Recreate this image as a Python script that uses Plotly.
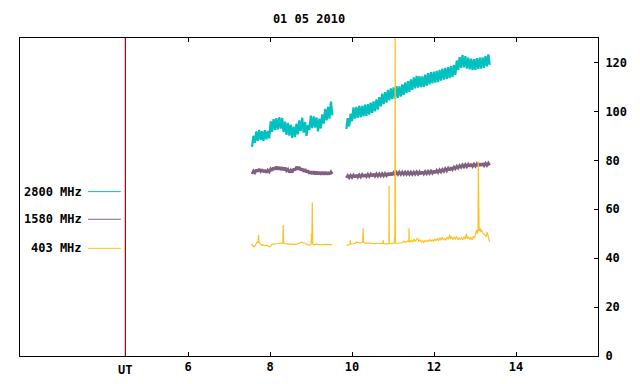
import plotly.graph_objects as go

# ---------------- data ----------------
title_text = "01 05 2010"
series_names = ["2800 MHz", "1580 MHz", "403 MHz"]
series_colors = ["#00c0c0", "#806080", "#ffc020"]
x_tick_vals = [6, 8, 10, 12, 14]
y_tick_vals = [0, 20, 40, 60, 80, 100, 120]
ut_hour = 4.47

sample_step = 0.035  # hours between samples

# 2800 MHz, two segments
cyan_seg1_start = 7.56
cyan_seg1 = [85.5, 90.0, 87.2, 91.8, 88.0, 92.4, 88.3, 91.9, 87.9, 92.3, 88.6, 92.0, 89.0, 95.9,
             91.6, 96.8, 92.3, 97.2, 92.6, 97.6, 93.0, 97.3, 91.5, 95.8, 90.4, 95.3, 90.1, 94.6,
             89.2, 93.8, 89.5, 95.0, 90.6, 96.3, 92.0, 97.4, 91.3, 95.7, 90.0, 94.5, 92.4, 98.3,
             93.2, 98.0, 93.4, 97.5, 91.8, 97.0, 93.0, 98.8, 95.0, 101.0, 96.3, 101.8, 97.0, 104.0, 98.4]
cyan_seg2_start = 9.86
cyan_seg2 = [92.8, 97.2, 93.9, 99.0, 96.0, 101.6, 97.0, 101.8, 97.4, 102.3, 97.6, 102.2, 98.0, 102.8,
             98.2, 103.0, 98.7, 103.6, 99.4, 104.1, 100.0, 104.9, 100.7, 105.8, 102.1, 107.2, 103.0,
             107.9, 103.6, 108.8, 104.5, 109.4, 105.0, 109.8, 105.2, 110.3, 105.5, 110.2, 106.0, 111.0,
             106.8, 111.8, 107.5, 112.4, 108.0, 113.1, 108.8, 113.9, 109.4, 114.5, 109.7, 114.4, 109.9,
             114.3, 110.0, 115.0, 110.4, 115.6, 111.0, 116.0, 111.5, 116.2, 111.8, 116.6, 112.0, 117.0,
             112.6, 117.5, 113.0, 117.8, 113.3, 118.1, 113.6, 118.6, 114.0, 119.0, 114.9, 120.8, 117.0,
             122.2, 117.8, 123.0, 118.0, 122.6, 117.5, 122.0, 117.2, 121.6, 116.9, 121.4, 117.0, 121.8,
             117.4, 122.0, 117.5, 122.1, 117.8, 122.6, 118.4, 123.3, 119.0]

# 1580 MHz, two segments
purple_seg1_start = 7.56
purple_seg1 = [74.4, 75.7, 74.9, 76.2, 75.3, 76.5, 75.4, 76.3, 75.1, 76.1, 74.9, 76.0, 75.2, 76.5,
               75.7, 77.1, 76.2, 77.5, 76.2, 77.3, 76.0, 77.2, 75.9, 77.0, 75.7, 76.4, 75.0, 76.0,
               75.0, 76.6, 75.8, 77.4, 76.2, 77.3, 75.8, 76.7, 75.3, 76.4, 75.0, 75.9, 74.5, 75.5,
               74.3, 75.5, 74.2, 75.4, 74.2, 75.3, 74.1, 75.3, 74.1, 75.3, 74.1, 75.2, 74.2, 75.3, 74.4]
purple_seg2_start = 9.86
purple_seg2 = [72.8, 73.8, 72.9, 73.9, 73.0, 74.0, 73.0, 74.1, 73.1, 74.1, 73.2, 74.2, 73.2, 74.3,
               73.3, 74.3, 73.4, 74.4, 73.4, 74.5, 73.5, 74.5, 73.5, 74.5, 73.6, 74.6, 73.6, 74.6,
               73.7, 74.8, 73.8, 74.9, 73.9, 75.0, 74.1, 75.1, 74.2, 75.2, 74.2, 75.2, 74.2, 75.2,
               74.2, 75.2, 74.2, 75.2, 74.2, 75.2, 74.3, 75.3, 74.3, 75.3, 74.3, 75.4, 74.4, 75.4,
               74.5, 75.5, 74.6, 75.6, 74.7, 75.8, 74.8, 75.9, 75.0, 76.1, 75.2, 76.3, 75.5, 76.6,
               75.7, 76.8, 75.9, 77.1, 76.2, 77.3, 76.5, 77.6, 76.8, 77.9, 77.1, 78.2, 77.3, 78.3,
               77.4, 78.4, 77.4, 78.5, 77.5, 78.5, 77.6, 78.6, 77.6, 78.7, 77.7, 78.8, 77.8, 78.8,
               77.9, 78.9, 78.0]

# 403 MHz, two segments (irregular times because of spikes)
yellow_seg1_t = [7.547, 7.57, 7.60, 7.63, 7.66, 7.69, 7.71, 7.72, 7.73, 7.76, 7.79, 7.83, 7.87, 7.91,
                 7.95, 7.99, 8.02, 8.04, 8.08, 8.12, 8.16, 8.20, 8.24, 8.28, 8.31, 8.32, 8.33, 8.36,
                 8.40, 8.44, 8.48, 8.52, 8.56, 8.60, 8.64, 8.68, 8.72, 8.77, 8.81, 8.85, 8.89, 8.93,
                 8.97, 9.00, 9.01, 9.02, 9.03, 9.04, 9.07, 9.11, 9.15, 9.19, 9.23, 9.27, 9.31, 9.35,
                 9.39, 9.43, 9.47, 9.51]
yellow_seg1_v = [45.8, 45.2, 44.6, 44.9, 46.0, 46.8, 46.2, 49.5, 46.4, 45.9, 45.3, 45.4, 45.0, 45.3,
                 44.9, 44.6, 45.0, 45.6, 45.7, 45.8, 45.6, 46.0, 46.2, 46.0, 46.1, 53.6, 46.2, 46.0,
                 45.8, 45.7, 45.6, 45.9, 45.5, 45.7, 45.6, 45.9, 46.3, 46.5, 46.3, 45.9, 45.6, 45.4,
                 45.3, 45.6, 50.0, 46.0, 62.8, 45.8, 45.4, 45.6, 45.7, 45.5, 45.4, 45.6, 45.5, 45.6,
                 45.5, 45.5, 45.4, 45.5]
yellow_seg2_t = [9.866, 9.90, 9.94, 9.955, 9.96, 9.965, 10.00, 10.04, 10.08, 10.10, 10.14, 10.18, 10.22,
                 10.26, 10.27, 10.28, 10.31, 10.35, 10.39, 10.43, 10.47, 10.51, 10.55, 10.60, 10.64,
                 10.68, 10.72, 10.755, 10.76, 10.765, 10.80, 10.84, 10.88, 10.90, 10.905, 10.91, 10.95,
                 11.00, 11.03, 11.036, 11.045, 11.052, 11.06, 11.10, 11.14, 11.18, 11.21, 11.24, 11.27,
                 11.30, 11.33, 11.36, 11.385, 11.39, 11.395, 11.42, 11.45, 11.48, 11.51, 11.54, 11.57,
                 11.60, 11.63, 11.66, 11.69, 11.72, 11.75, 11.78, 11.81, 11.84, 11.87, 11.90, 11.93,
                 11.96, 11.99, 12.02, 12.05, 12.08, 12.11, 12.14, 12.17, 12.20, 12.23, 12.26, 12.29,
                 12.32, 12.35, 12.38, 12.40, 12.43, 12.46, 12.49, 12.52, 12.55, 12.58, 12.61, 12.64,
                 12.67, 12.70, 12.73, 12.76, 12.79, 12.81, 12.84, 12.87, 12.90, 12.93, 12.96, 12.99,
                 13.02, 13.04, 13.06, 13.075, 13.08, 13.085, 13.09, 13.10, 13.12, 13.14, 13.16, 13.19,
                 13.22, 13.24, 13.27, 13.30, 13.32, 13.34, 13.36]
yellow_seg2_v = [45.2, 45.4, 45.6, 45.7, 47.4, 45.8, 45.8, 45.9, 46.0, 46.5, 46.3, 46.2, 46.2,
                 46.6, 52.2, 46.4, 46.1, 46.2, 46.1, 46.0, 46.1, 46.0, 45.9, 46.0, 45.9,
                 46.0, 46.0, 46.1, 47.4, 46.0, 45.8, 45.7, 45.8, 45.9, 69.5, 46.0, 46.0,
                 46.1, 46.2, 48.5, 46.2, 140.0, 46.2, 46.1, 46.2, 46.0, 46.3, 46.6, 47.0,
                 46.4, 46.6, 47.0, 46.8, 52.2, 46.9, 46.7, 47.3, 46.6, 47.8, 46.9, 47.6,
                 48.2, 46.9, 47.5, 46.6, 47.1, 46.5, 47.2, 46.8, 47.4, 46.9, 47.6, 47.0,
                 47.5, 46.9, 47.8, 47.2, 48.0, 47.1, 48.3, 47.4, 48.5, 47.6, 48.1, 47.3,
                 48.6, 47.7, 49.6, 47.9, 48.8, 47.6, 48.5, 47.8, 48.9, 47.5, 48.2, 47.6,
                 48.4, 47.5, 48.8, 47.8, 49.9, 48.0, 48.6, 47.6, 48.4, 47.5, 49.0, 48.3,
                 50.2, 51.5, 50.0, 52.0, 79.4, 52.5, 54.9, 51.0, 52.3, 50.8, 51.5, 50.2,
                 49.8, 49.5, 48.9, 50.5, 48.2, 47.5, 46.7]

# legend placement (data units)
legend_y = [67.2, 55.9, 44.0]
legend_text_x = 3.46
legend_line_x = [3.56, 4.36]

x_range = [1.9, 16.0]
y_range = [0, 130]


def grid(start, vals):
    return [start + i * sample_step for i in range(len(vals))]


def join(t1, v1, t2, v2):
    return list(t1) + [None] + list(t2), list(v1) + [None] + list(v2)


cx, cy = join(grid(cyan_seg1_start, cyan_seg1), cyan_seg1, grid(cyan_seg2_start, cyan_seg2), cyan_seg2)
px_, py_ = join(grid(purple_seg1_start, purple_seg1), purple_seg1,
                grid(purple_seg2_start, purple_seg2), purple_seg2)
yx, yy = join(yellow_seg1_t, yellow_seg1_v, yellow_seg2_t, yellow_seg2_v)

FONT = "DejaVu Sans Mono"
PAGE_OFFSET = 8  # default body margin of the html page

fig = go.Figure()
fig.add_trace(go.Scatter(x=cx, y=cy, mode="lines", line=dict(color=series_colors[0], width=2.2),
                         showlegend=False, connectgaps=False))
fig.add_trace(go.Scatter(x=px_, y=py_, mode="lines", line=dict(color=series_colors[1], width=2.6),
                         showlegend=False, connectgaps=False))
fig.add_trace(go.Scatter(x=yx, y=yy, mode="lines", line=dict(color=series_colors[2], width=1.2),
                         showlegend=False, connectgaps=False))

shapes = [dict(type="line", xref="x", yref="paper", x0=ut_hour, x1=ut_hour, y0=0, y1=1,
               line=dict(color="#9a0000", width=1.2), layer="above")]
annotations = []
for name, col, ly in zip(series_names, series_colors, legend_y):
    shapes.append(dict(type="line", xref="x", yref="y", x0=legend_line_x[0], x1=legend_line_x[1],
                       y0=ly, y1=ly, line=dict(color=col, width=1)))
    annotations.append(dict(x=legend_text_x, y=ly, xref="x", yref="y", text=name, showarrow=False,
                            xanchor="right", yanchor="middle",
                            font=dict(family=FONT, size=12, color="black", weight="bold")))
annotations.append(dict(x=ut_hour, y=-0.043, xref="x", yref="paper", text="UT", showarrow=False,
                        xanchor="center", yanchor="middle",
                        font=dict(family=FONT, size=12, color="black", weight="bold")))

W, H = 640 - PAGE_OFFSET, 384 - PAGE_OFFSET
fig.update_layout(
    width=W, height=H,
    margin=dict(l=20 - PAGE_OFFSET, r=42, t=38 - PAGE_OFFSET, b=28, autoexpand=False),
    paper_bgcolor="white", plot_bgcolor="white",
    title=dict(text=title_text, x=0.5, xref="paper", xanchor="center", y=1 - (19 - PAGE_OFFSET) / H,
               yref="container", yanchor="middle",
               font=dict(family=FONT, size=12, color="black", weight="bold")),
    xaxis=dict(range=x_range, tickvals=x_tick_vals, ticks="inside", ticklen=4, tickcolor="black",
               showline=True, linecolor="black", linewidth=1, mirror="ticks", showgrid=False,
               zeroline=False, tickfont=dict(family=FONT, size=12, color="black", weight="bold")),
    yaxis=dict(range=y_range, tickvals=y_tick_vals, side="right", ticks="inside", ticklen=4,
               tickcolor="black", showline=True, linecolor="black", linewidth=1, mirror=True,
               showgrid=False, zeroline=False, ticklabelstandoff=4,
               tickfont=dict(family=FONT, size=12, color="black", weight="bold")),
    shapes=shapes, annotations=annotations,
)

fig.write_html("out.html")
